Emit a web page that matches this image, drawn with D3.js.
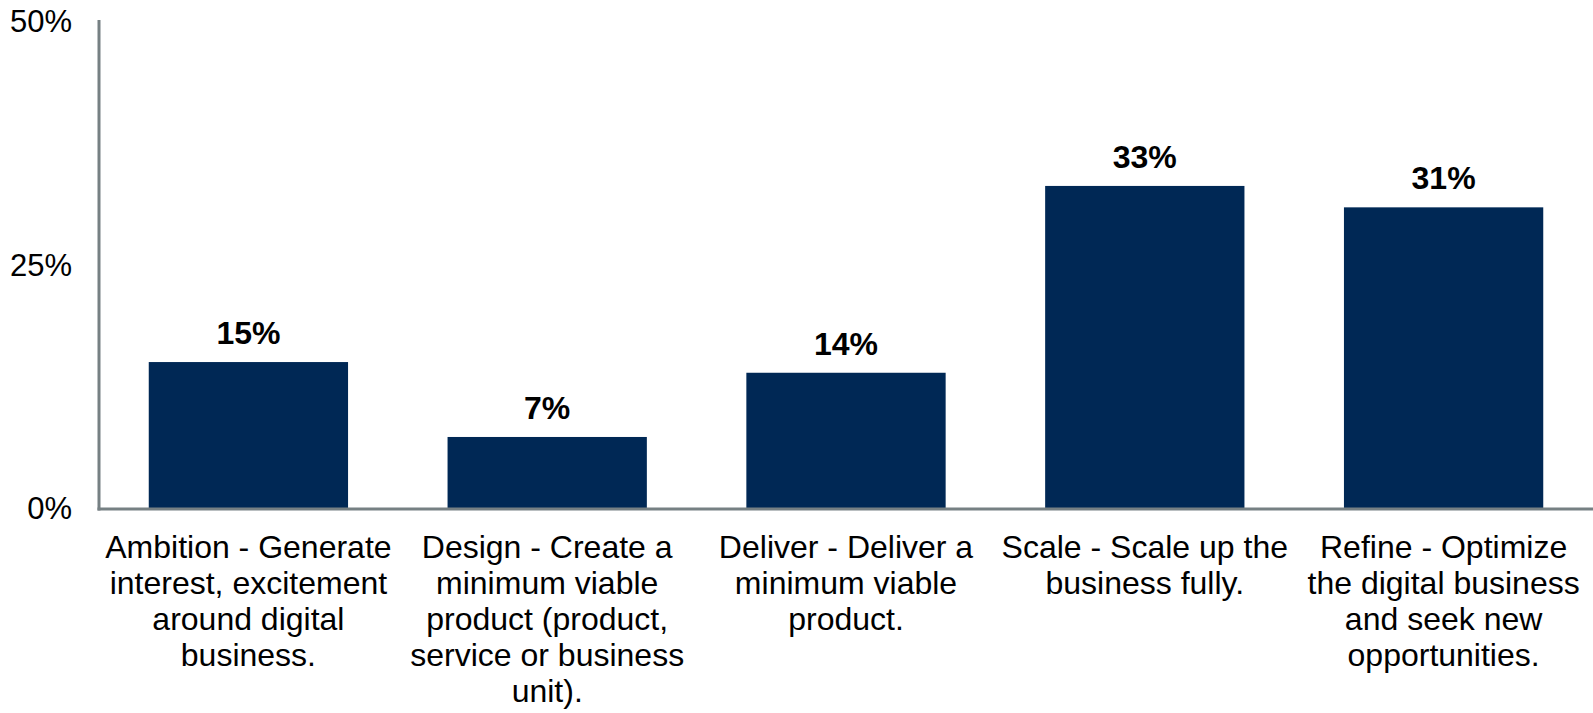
<!DOCTYPE html>
<html>
<head>
<meta charset="utf-8">
<script src="https://cdn.jsdelivr.net/npm/d3@7"></script>
<style>
  html, body { margin: 0; padding: 0; background: #fff; }
  svg { display: block; font-family: "Liberation Sans", Arial, sans-serif; }
</style>
</head>
<body>
<svg id="chart" width="1593" height="713"></svg>
<script>
const categories = [
  "Ambition - Generate interest, excitement around digital business.",
  "Design - Create a minimum viable product (product, service or business unit).",
  "Deliver - Deliver a minimum viable product.",
  "Scale - Scale up the business fully.",
  "Refine - Optimize the digital business and seek new opportunities."
];
const categoryLines = [
  ["Ambition - Generate", "interest, excitement", "around digital", "business."],
  ["Design - Create a", "minimum viable", "product (product,", "service or business", "unit)."],
  ["Deliver - Deliver a", "minimum viable", "product."],
  ["Scale - Scale up the", "business fully."],
  ["Refine - Optimize", "the digital business", "and seek new", "opportunities."]
];
const values = [15.0, 7.3, 13.9, 33.1, 30.9];
const valueLabels = ["15%", "7%", "14%", "33%", "31%"];
const yTicks = [0, 25, 50];
const yTickLabels = ["0%", "25%", "50%"];

const svg = d3.select("#chart");
const axisX = 99, zeroY = 508;

const x = d3.scaleBand().domain(categories).range([axisX, 1593]).paddingInner(0.333).paddingOuter(0.1665);
const y = d3.scaleLinear().domain([0, 50]).range([zeroY, 21.5]);

// bars
svg.append("g").selectAll("rect").data(values).join("rect")
  .attr("x", (d, i) => x(categories[i]))
  .attr("width", x.bandwidth())
  .attr("y", d => y(d))
  .attr("height", d => y(0) - y(d))
  .attr("fill", "#002855");

// value labels
svg.append("g").selectAll("text").data(values).join("text")
  .attr("x", (d, i) => x(categories[i]) + x.bandwidth() / 2)
  .attr("y", d => y(d) - 18)
  .attr("text-anchor", "middle")
  .attr("font-weight", "bold")
  .attr("font-size", 32)
  .attr("fill", "#000")
  .text((d, i) => valueLabels[i]);

// axes lines
const axisColor = "#768083";
svg.append("line").attr("x1", axisX).attr("x2", axisX).attr("y1", 20).attr("y2", 510.5)
  .attr("stroke", axisColor).attr("stroke-width", 3);
svg.append("line").attr("x1", axisX - 1.5).attr("x2", 1593).attr("y1", 509).attr("y2", 509)
  .attr("stroke", axisColor).attr("stroke-width", 3);

// y tick labels
svg.append("g").selectAll("text").data(yTicks).join("text")
  .attr("x", 72)
  .attr("y", d => y(d))
  .attr("dy", "0.35em")
  .attr("text-anchor", "end")
  .attr("font-size", 31)
  .attr("fill", "#000")
  .text((d, i) => yTickLabels[i]);

// category labels
const cat = svg.append("g").selectAll("text").data(categories).join("text")
  .attr("x", d => x(d) + x.bandwidth() / 2)
  .attr("y", 558)
  .attr("text-anchor", "middle")
  .attr("font-size", 32)
  .attr("fill", "#000");
cat.selectAll("tspan").data((d, i) => categoryLines[i]).join("tspan")
  .attr("x", function() { return d3.select(this.parentNode).attr("x"); })
  .attr("dy", (d, j) => j === 0 ? 0 : 36)
  .text(d => d);
</script>
</body>
</html>
